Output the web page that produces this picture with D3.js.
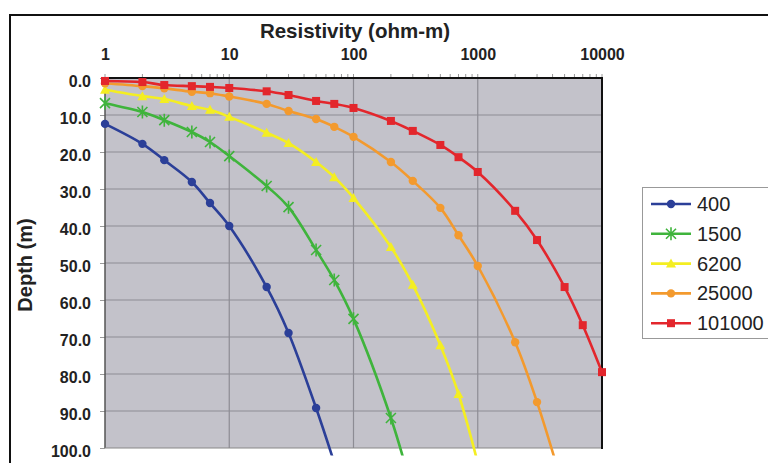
<!DOCTYPE html>
<html><head><meta charset="utf-8">
<script src="https://cdn.jsdelivr.net/npm/d3@7"></script>
<style>
html,body{margin:0;padding:0;background:#fff;}
svg{display:block;font-family:"Liberation Sans",Arial,sans-serif;}
</style></head>
<body><svg id="chart" width="768" height="463"></svg>
<script>
// ---- data ----
const resistivity = [1,2,3,5,7,10,20,30,50,70,100,200,300,500,700,1000,2000,3000,5000,7000,10000];
const seriesNames = ["400","1500","6200","25000","101000"];
const depth400    = [12.4,17.8,22.2,28.1,33.8,40.0,56.5,68.9,89.2,104];
const depth1500   = [6.8,9.2,11.4,14.6,17.3,21.1,29.2,34.9,46.5,54.6,65.1,91.9,112];
const depth6200   = [3.2,4.9,5.7,7.6,8.6,10.5,14.8,17.6,22.7,26.8,32.4,45.7,55.9,72.2,85.4,104];
const depth25000  = [1.4,2.2,2.8,3.7,4.1,5.0,7.0,8.9,11.1,13.2,15.9,22.7,27.8,35.1,42.5,50.8,71.4,87.6,112];
const depth101000 = [0.8,1.1,1.9,2.2,2.4,2.7,3.6,4.6,6.2,7.0,8.1,11.6,14.3,18.1,21.4,25.4,35.9,43.8,56.5,66.8,79.5];
const xTickValues = [1,10,100,1000,10000];
const yTickValues = [0,10,20,30,40,50,60,70,80,90,100];
const colors = ["#2b3f98","#3fb43c","#f4ee22","#f39a2e","#e3262c"];
const shapes = ["circle","asterisk","triangle","circle","square"];

const depths = [depth400,depth1500,depth6200,depth25000,depth101000];
const series = seriesNames.map((n,i)=>({name:n,color:colors[i],shape:shapes[i],
  pts:depths[i].map((d,j)=>({x:resistivity[j],y:d}))}));

// ---- layout ----
const L=105,R=602,T=78,B=448;
const svg=d3.select("#chart");
const x=d3.scaleLog().domain([1,10000]).range([L,R]);
const y=d3.scaleLinear().domain([0,100]).range([T,B]);

// outer frame
svg.append("path").attr("d",`M10,470V15H780`).attr("fill","none").attr("stroke","#111").attr("stroke-width",2);

// plot bg
svg.append("rect").attr("x",L).attr("y",T).attr("width",R-L).attr("height",B-T).attr("fill","#c3c2ca");

// grid
svg.append("g").selectAll("line").data(yTickValues.slice(1,-1)).join("line")
  .attr("x1",L).attr("x2",R).attr("y1",d=>y(d)).attr("y2",d=>y(d))
  .attr("stroke","#8d8c94").attr("stroke-width",1.2);
svg.append("g").selectAll("line").data(xTickValues.slice(1,-1)).join("line")
  .attr("y1",T).attr("y2",B).attr("x1",d=>x(d)).attr("x2",d=>x(d))
  .attr("stroke","#8d8c94").attr("stroke-width",1.2);

// top axis
const xAxis=d3.axisTop(x).tickValues(xTickValues).tickFormat(d3.format("d")).tickSize(0).tickPadding(18);
const gx=svg.append("g").attr("transform",`translate(0,${T})`).call(xAxis);
gx.select(".domain").remove();
gx.selectAll("text").attr("font-size",16).attr("font-weight","bold").attr("fill","#222")
  .attr("font-family","'Liberation Sans',Arial,sans-serif");
// minor ticks
const minor=[];
for(let e=0;e<4;e++)for(let k=1;k<10;k++)minor.push(k*Math.pow(10,e));
minor.push(10000);
svg.append("g").selectAll("line").data(minor).join("line")
  .attr("x1",d=>x(d)).attr("x2",d=>x(d)).attr("y1",T).attr("y2",T-4)
  .attr("stroke","#9a9a9a").attr("stroke-width",1);

// left axis
const yAxis=d3.axisLeft(y).tickValues(yTickValues).tickFormat(d3.format(".1f")).tickSize(5).tickPadding(9);
const gy=svg.append("g").attr("transform",`translate(${L},0)`).call(yAxis);
gy.select(".domain").remove();
gy.selectAll(".tick line").attr("stroke","#9a9a9a");
gy.selectAll("text").attr("font-size",16).attr("font-weight","bold").attr("fill","#222")
  .attr("dy","0.55em").attr("font-family","'Liberation Sans',Arial,sans-serif");

// borders
svg.append("line").attr("x1",L).attr("x2",L).attr("y1",T).attr("y2",B).attr("stroke","#555").attr("stroke-width",1.5);
svg.append("line").attr("x1",L).attr("x2",R).attr("y1",B).attr("y2",B).attr("stroke","#888").attr("stroke-width",1);
svg.append("line").attr("x1",L).attr("x2",R+1).attr("y1",T).attr("y2",T).attr("stroke","#111").attr("stroke-width",2);
svg.append("line").attr("x1",R).attr("x2",R).attr("y1",T).attr("y2",B+1).attr("stroke","#111").attr("stroke-width",2);

// titles
svg.append("text").attr("x",355).attr("y",38).attr("text-anchor","middle")
  .attr("font-size",20.5).attr("font-weight","bold").attr("fill","#222").text("Resistivity (ohm-m)");
svg.append("text").attr("transform","translate(32,265) rotate(-90)").attr("text-anchor","middle")
  .attr("font-size",20).attr("font-weight","bold").attr("fill","#222").text("Depth (m)");

// clip for lines
svg.append("clipPath").attr("id","clip").append("rect").attr("x",0).attr("y",0).attr("width",768).attr("height",y(102));

function marker(g,shape,color){
  if(shape==="circle") g.append("circle").attr("r",4.2).attr("fill",color);
  else if(shape==="square") g.append("rect").attr("x",-4).attr("y",-4).attr("width",8).attr("height",8).attr("fill",color);
  else if(shape==="triangle") g.append("path").attr("d","M0,-5L5,4L-5,4Z").attr("fill",color);
  else if(shape==="asterisk") g.append("path").attr("d","M-5,-5L5,5M-5,5L5,-5M0,-6.5L0,6.5").attr("stroke",color).attr("stroke-width",1.6).attr("fill","none");
}

const line=d3.line().x(d=>x(d.x)).y(d=>y(d.y)).curve(d3.curveCatmullRom.alpha(0.5));
const gs=svg.append("g");
series.forEach(s=>{
  gs.append("path").attr("d",line(s.pts)).attr("fill","none").attr("stroke",s.color)
    .attr("stroke-width",2.6).attr("clip-path","url(#clip)");
  s.pts.filter(p=>p.y<=100).forEach(p=>{
    const g=gs.append("g").attr("transform",`translate(${x(p.x)},${y(p.y)})`);
    marker(g,s.shape,s.color);
  });
});

// legend
const lg=svg.append("g");
lg.append("rect").attr("x",642.5).attr("y",187.5).attr("width",140).attr("height",151)
  .attr("fill","#fff").attr("stroke","#999").attr("stroke-width",1);
series.forEach((s,i)=>{
  const cy=204+i*29.8;
  lg.append("line").attr("x1",651).attr("x2",691).attr("y1",cy).attr("y2",cy).attr("stroke",s.color).attr("stroke-width",2.6);
  const g=lg.append("g").attr("transform",`translate(671,${cy})`);
  marker(g,s.shape,s.color);
  lg.append("text").attr("x",697).attr("y",cy+7).attr("font-size",20).attr("fill","#222").text(s.name);
});
</script></body></html>
